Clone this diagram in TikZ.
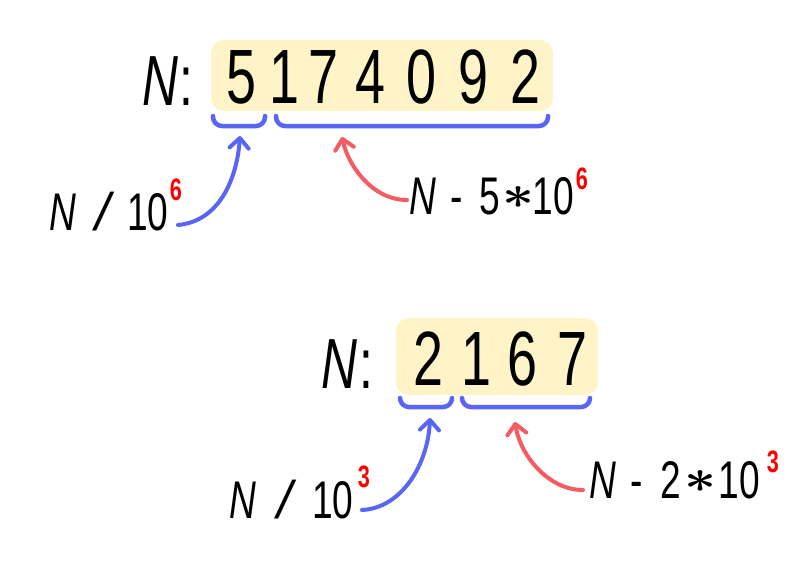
\documentclass[tikz,border=0pt]{standalone}
\usepackage{fontspec}
\usetikzlibrary{arrows.meta}
\newfontfamily\cond[FakeStretch=0.7]{Liberation Sans}
\newfontfamily\slfont{Liberation Sans}
\definecolor{boxy}{RGB}{255,244,200}
\definecolor{bl}{RGB}{88,101,245}
\definecolor{rd}{RGB}{242,92,98}
\definecolor{supred}{RGB}{255,0,0}
\begin{document}
\begin{tikzpicture}[x=1pt,y=-1pt,
  numbox/.style={fill=boxy, rounded corners=13pt, inner sep=0pt},
  dig/.style={inner sep=0pt, anchor=base, font=\cond\fontsize{77}{80}\selectfont},
  bigN/.style={inner sep=0pt, anchor=base, font=\cond\itshape\fontsize{71}{74}\selectfont},
  bigcolon/.style={inner sep=0pt, anchor=base, font=\cond\fontsize{71}{74}\selectfont},
  lbl/.style={inner sep=0pt, anchor=base, font=\cond\fontsize{53}{56}\selectfont},
  lblN/.style={inner sep=0pt, anchor=base, font=\cond\itshape\fontsize{53}{56}\selectfont},
  slash/.style={inner sep=0pt, anchor=base, font=\slfont\itshape\fontsize{53}{56}\selectfont},
  supx/.style={inner sep=0pt, anchor=base, text=supred, font=\cond\bfseries\fontsize{31}{33}\selectfont},
  starx/.style={inner sep=0pt, anchor=center},
  brace/.style={draw=bl, line width=4.5pt, line cap=round, rounded corners=9pt},
  arr/.style={line width=4pt, line cap=round, -{Straight Barb[round, length=10pt, width=19pt]}}
]
\useasboundingbox (0,0) rectangle (797,563);

% ---------- top number ----------
\node[numbox, minimum width=342pt, minimum height=71pt] (box1) at (382,75.5) {};
\node[bigN] (N1) at (160,105) {N};
\node[bigcolon] (c1) at (186.5,105) {:};
\node[dig] (d1) at (241,103) {5};
\node[dig] (d2) at (284,103) {1};
\node[dig] (d3) at (323,103) {7};
\node[dig] (d4) at (370,103) {4};
\node[dig] (d5) at (421,103) {0};
\node[dig] (d6) at (473,103) {9};
\node[dig] (d7) at (525,103) {2};

\draw[brace] (213,116) -- (213,126) -- (265,126) -- (265,116);
\draw[brace] (276,116) -- (276,126) -- (548,126) -- (548,116);

% left label
\node[lblN] (aN) at (63,230) {N};
\node[slash] (aS) at (103,230) {/};
\node[lbl] (aT) at (148,230) {10};
\node[supx] (aE) at (176,200) {6};
\coordinate (aStart) at (178,225);
\coordinate (aTip) at (240,136);
\draw[arr, bl] (aStart) .. controls +(42,-4) and +(-3,42) .. (aTip);

% right label
\node[lblN] (bN) at (423,214) {N};
\node[lbl] (bM) at (457,214) {-};
\node[lbl] (bF) at (490,214) {5};
\node[starx] (bX) at (519,197) {\resizebox*{32pt}{22pt}{\boldmath$\ast$}};
\node[lbl] (bT) at (553,214) {10};
\node[supx] (bE) at (582,189) {6};
\coordinate (bStart) at (407,200);
\coordinate (bTip) at (342,137);
\draw[arr, rd] (bStart) .. controls +(-35,0) and +(6,28) .. (bTip);

% ---------- bottom number ----------
\node[numbox, minimum width=202pt, minimum height=77pt] (box2) at (497,356.5) {};
\node[bigN] (N2) at (339,388) {N};
\node[bigcolon] (c2) at (366,388) {:};
\node[dig] (e1) at (428,385) {2};
\node[dig] (e2) at (476,385) {1};
\node[dig] (e3) at (522,385) {6};
\node[dig] (e4) at (572,385) {7};

\draw[brace] (400,398) -- (400,407) -- (452,407) -- (452,398);
\draw[brace] (462,398) -- (462,407) -- (590,407) -- (590,398);

% left label
\node[lblN] (cN) at (243,518) {N};
\node[slash] (cS) at (285,518) {/};
\node[lbl] (cT) at (333,518) {10};
\node[supx] (cE) at (364,487) {3};
\coordinate (cStart) at (362,510);
\coordinate (cTip) at (430,418);
\draw[arr, bl] (cStart) .. controls +(40,-2) and +(-2,46) .. (cTip);

% right label
\node[lblN] (dN) at (603,498) {N};
\node[lbl] (dM) at (637,498) {-};
\node[lbl] (dF) at (671,498) {2};
\node[starx] (dX) at (700,481) {\resizebox*{32pt}{22pt}{\boldmath$\ast$}};
\node[lbl] (dT) at (739,498) {10};
\node[supx] (dE) at (773,472) {3};
\coordinate (dStart) at (583,490);
\coordinate (dTip) at (515,422);
\draw[arr, rd] (dStart) .. controls +(-35,0) and +(5,33) .. (dTip);
\end{tikzpicture}
\end{document}
